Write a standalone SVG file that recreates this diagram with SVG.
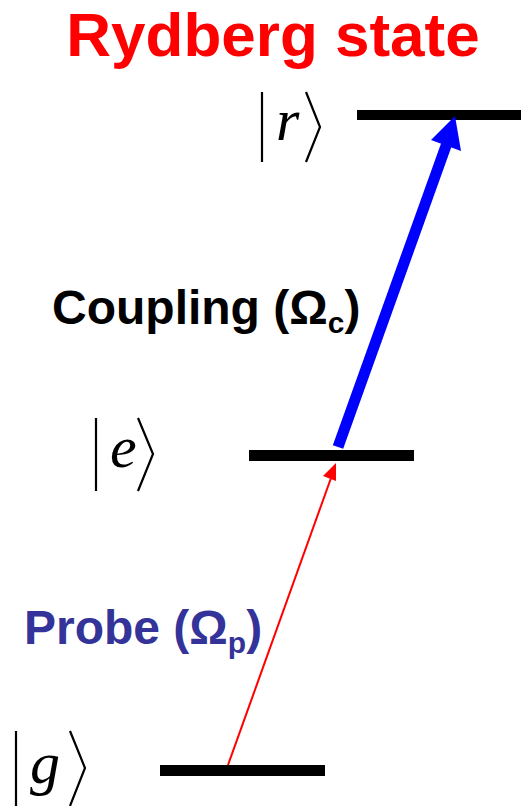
<svg xmlns="http://www.w3.org/2000/svg" width="521" height="806" viewBox="0 0 521 806">
  <style>
    .lvl { fill: #000000; }
    .bold { font-family: "Liberation Sans", Arial, sans-serif; font-weight: bold; }
    .ket { font-family: "Liberation Serif", "Times New Roman", serif; font-style: italic; font-size: 60px; fill: #000000; }
    .delim { fill: none; stroke: #000000; stroke-width: 2.2; }
  </style>
  <rect width="521" height="806" fill="#ffffff"/>

  <g id="title">
    <text class="bold" x="273" y="56" font-size="62" fill="#ff0000" text-anchor="middle">Rydberg state</text>
  </g>

  <g id="level-r">
    <rect class="lvl" x="357" y="110" width="164" height="10"/>
    <line class="delim" x1="262" y1="92" x2="262" y2="162"/>
    <text class="ket" x="276" y="140">r</text>
    <polyline class="delim" points="306,92 320,127 306,162"/>
  </g>

  <g id="level-e">
    <rect class="lvl" x="249" y="450" width="165" height="11"/>
    <line class="delim" x1="96" y1="418" x2="96" y2="491"/>
    <text class="ket" x="110" y="467">e</text>
    <polyline class="delim" points="138,418 153,454 138,491"/>
  </g>

  <g id="level-g">
    <rect class="lvl" x="160" y="765" width="165" height="11"/>
    <line class="delim" x1="16" y1="731" x2="16" y2="806"/>
    <text class="ket" x="30" y="783">g</text>
    <polyline class="delim" points="70,731 85,768 70,806"/>
  </g>

  <g id="connectors">
    <g id="coupling-arrow">
      <line x1="338" y1="447" x2="447" y2="143" stroke="#0000ff" stroke-width="11"/>
      <polygon points="455,116 431,140 461,151" fill="#0000ff"/>
    </g>
    <g id="probe-arrow">
      <line x1="228" y1="765" x2="331" y2="478" stroke="#ff0000" stroke-width="2"/>
      <polygon points="336,463 323,476 336,481" fill="#ff0000"/>
    </g>
  </g>

  <g id="coupling-label">
    <text class="bold" x="52" y="324" font-size="48" fill="#000000">Coupling (Ω<tspan font-size="30" dy="9">c</tspan><tspan dy="-9">)</tspan></text>
  </g>

  <g id="probe-label">
    <text class="bold" x="24" y="644" font-size="48" fill="#333399">Probe (Ω<tspan font-size="30" dy="9">p</tspan><tspan dy="-9">)</tspan></text>
  </g>
</svg>
